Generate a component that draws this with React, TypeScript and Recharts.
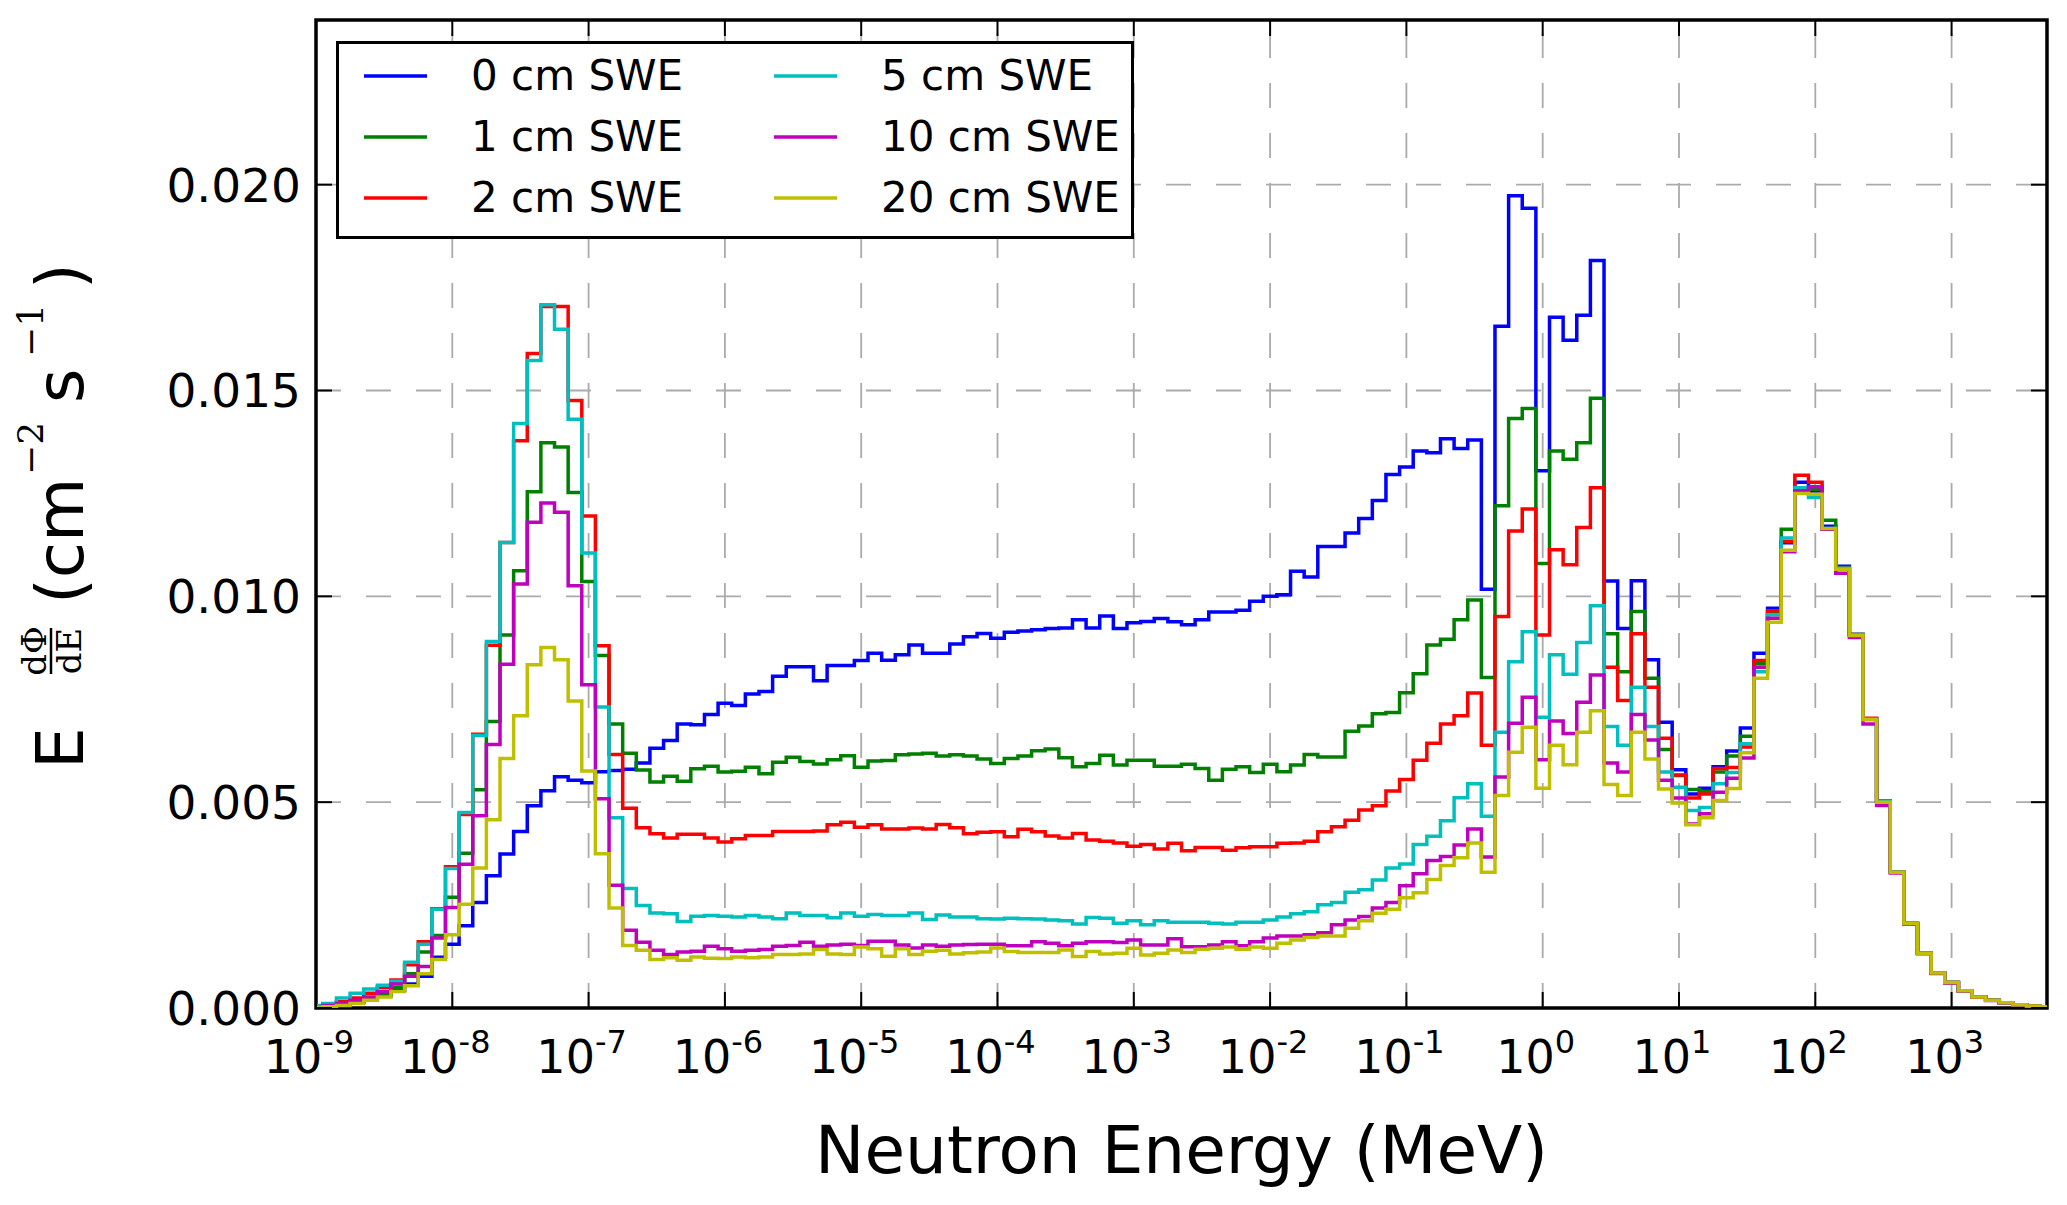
import React from 'react';
import { LineChart, Line, XAxis, YAxis, CartesianGrid, ReferenceArea, Label } from 'recharts';

// bin centres, log10(E / MeV)
const binExponents = [
  -9.0, -8.9, -8.8, -8.7, -8.6, -8.5, -8.4, -8.3, -8.2, -8.1,
  -8.0, -7.9, -7.8, -7.7, -7.6, -7.5, -7.4, -7.3, -7.2, -7.1,
  -7.0, -6.9, -6.8, -6.7, -6.6, -6.5, -6.4, -6.3, -6.2, -6.1,
  -6.0, -5.9, -5.8, -5.7, -5.6, -5.5, -5.4, -5.3, -5.2, -5.1,
  -5.0, -4.9, -4.8, -4.7, -4.6, -4.5, -4.4, -4.3, -4.2, -4.1,
  -4.0, -3.9, -3.8, -3.7, -3.6, -3.5, -3.4, -3.3, -3.2, -3.1,
  -3.0, -2.9, -2.8, -2.7, -2.6, -2.5, -2.4, -2.3, -2.2, -2.1,
  -2.0, -1.9, -1.8, -1.7, -1.6, -1.5, -1.4, -1.3, -1.2, -1.1,
  -1.0, -0.9, -0.8, -0.7, -0.6, -0.5, -0.4, -0.3, -0.2, -0.1,
  0.0, 0.1, 0.2, 0.3, 0.4, 0.5, 0.6, 0.7, 0.8, 0.9,
  1.0, 1.1, 1.2, 1.3, 1.4, 1.5, 1.6, 1.7, 1.8, 1.9,
  2.0, 2.1, 2.2, 2.3, 2.4, 2.5, 2.6, 2.7, 2.8, 2.9,
  3.0, 3.1, 3.2, 3.3, 3.4, 3.5, 3.6, 3.7,
];

// E dPhi/dE in units of 1e-3 cm^-2 s^-1, one row per decade
const flux0cm = [
  0.03, 0.05, 0.09, 0.14, 0.21, 0.30, 0.43, 0.58, 0.77, 1.23,
  1.55, 2.00, 2.56, 3.21, 3.74, 4.29, 4.91, 5.28, 5.62, 5.53,
  5.47, 5.74, 5.77, 5.80, 5.95, 6.31, 6.50, 6.90, 6.88, 7.13,
  7.40, 7.35, 7.63, 7.69, 8.06, 8.29, 8.29, 7.95, 8.32, 8.32,
  8.44, 8.62, 8.45, 8.58, 8.82, 8.62, 8.62, 8.84, 9.02, 9.10,
  8.98, 9.13, 9.16, 9.19, 9.22, 9.23, 9.43, 9.23, 9.52, 9.22,
  9.36, 9.39, 9.46, 9.38, 9.31, 9.43, 9.62, 9.62, 9.66, 9.88,
  10.00, 10.04, 10.61, 10.47, 11.21, 11.21, 11.54, 11.89, 12.33, 12.96,
  13.14, 13.53, 13.49, 13.83, 13.59, 13.80, 10.17, 16.56, 19.73, 19.43,
  13.05, 16.78, 16.22, 16.83, 18.16, 10.37, 9.22, 10.38, 8.46, 6.94,
  5.79, 5.20, 5.34, 5.86, 6.24, 6.80, 8.62, 9.71, 11.30, 12.77,
  12.56, 11.70, 10.73, 9.07, 7.02, 5.02, 3.30, 2.05, 1.33, 0.85,
  0.62, 0.42, 0.27, 0.19, 0.13, 0.08, 0.05, 0.03,
];

const flux1cm = [
  0.02, 0.04, 0.07, 0.15, 0.24, 0.33, 0.50, 0.83, 1.36, 1.76,
  2.69, 3.76, 5.30, 6.96, 9.06, 10.62, 12.54, 13.73, 13.63, 12.52,
  10.36, 8.56, 6.90, 6.19, 5.78, 5.49, 5.63, 5.51, 5.81, 5.87,
  5.73, 5.75, 5.85, 5.69, 5.97, 6.09, 5.99, 5.93, 6.03, 6.13,
  5.85, 6.00, 6.01, 6.15, 6.17, 6.19, 6.12, 6.15, 6.12, 6.05,
  5.94, 6.06, 6.12, 6.25, 6.29, 6.08, 5.86, 5.94, 6.14, 5.90,
  6.02, 6.02, 5.87, 5.87, 5.92, 5.82, 5.53, 5.80, 5.86, 5.72,
  5.92, 5.74, 5.90, 6.16, 6.10, 6.10, 6.72, 6.85, 7.15, 7.18,
  7.66, 8.12, 8.82, 8.96, 9.43, 9.91, 8.03, 12.20, 14.32, 14.56,
  10.80, 13.53, 13.33, 13.73, 14.81, 9.09, 8.17, 9.63, 8.01, 6.28,
  5.65, 5.31, 5.26, 5.73, 6.12, 6.60, 8.36, 9.61, 11.63, 12.62,
  12.60, 11.85, 10.70, 9.07, 7.02, 5.02, 3.30, 2.05, 1.33, 0.85,
  0.62, 0.42, 0.27, 0.19, 0.13, 0.08, 0.05, 0.03,
];

const flux2cm = [
  0.05, 0.09, 0.15, 0.24, 0.36, 0.50, 0.68, 1.05, 1.61, 2.41,
  3.43, 4.70, 6.65, 8.81, 11.31, 13.78, 15.90, 17.04, 17.04, 14.76,
  11.95, 8.80, 6.16, 4.85, 4.38, 4.23, 4.13, 4.22, 4.22, 4.13,
  4.03, 4.11, 4.19, 4.19, 4.29, 4.29, 4.29, 4.30, 4.45, 4.51,
  4.39, 4.45, 4.35, 4.35, 4.37, 4.35, 4.46, 4.38, 4.23, 4.27,
  4.28, 4.16, 4.34, 4.28, 4.18, 4.13, 4.24, 4.08, 4.05, 4.01,
  3.93, 3.97, 3.86, 4.00, 3.82, 3.90, 3.90, 3.83, 3.89, 3.92,
  3.92, 4.00, 4.01, 4.05, 4.28, 4.40, 4.56, 4.81, 4.91, 5.27,
  5.55, 6.02, 6.43, 6.90, 7.10, 7.65, 6.38, 9.51, 11.59, 12.12,
  9.06, 11.13, 10.77, 11.67, 12.64, 8.28, 7.47, 9.09, 7.79, 6.55,
  5.66, 5.10, 5.20, 5.82, 5.84, 6.34, 8.44, 9.65, 11.33, 12.94,
  12.77, 11.63, 10.68, 9.07, 7.04, 5.02, 3.30, 2.05, 1.33, 0.85,
  0.62, 0.42, 0.27, 0.19, 0.13, 0.08, 0.05, 0.03,
];

const flux5cm = [
  0.06, 0.11, 0.24, 0.36, 0.46, 0.55, 0.65, 1.11, 1.55, 2.40,
  3.39, 4.75, 6.62, 8.90, 11.31, 14.20, 15.73, 17.08, 16.49, 14.30,
  11.05, 7.31, 4.62, 2.90, 2.49, 2.31, 2.29, 2.10, 2.23, 2.25,
  2.23, 2.21, 2.25, 2.21, 2.17, 2.31, 2.25, 2.25, 2.19, 2.31,
  2.23, 2.27, 2.25, 2.25, 2.31, 2.15, 2.26, 2.21, 2.21, 2.17,
  2.16, 2.18, 2.17, 2.16, 2.14, 2.12, 2.04, 2.20, 2.18, 2.06,
  2.12, 2.02, 2.12, 2.08, 2.08, 2.08, 2.06, 2.04, 2.08, 2.08,
  2.14, 2.21, 2.29, 2.34, 2.51, 2.56, 2.81, 2.87, 3.11, 3.40,
  3.50, 3.97, 4.17, 4.55, 5.11, 5.45, 4.66, 6.70, 8.41, 9.14,
  7.06, 8.58, 8.11, 8.88, 9.77, 6.84, 6.38, 7.79, 6.84, 5.73,
  5.36, 4.80, 4.87, 5.45, 5.72, 6.42, 8.17, 9.55, 11.42, 12.64,
  12.40, 11.65, 10.68, 9.07, 7.02, 5.02, 3.30, 2.05, 1.33, 0.85,
  0.62, 0.42, 0.27, 0.19, 0.13, 0.08, 0.05, 0.03,
];

const flux10cm = [
  0.03, 0.06, 0.11, 0.19, 0.27, 0.40, 0.58, 0.77, 1.01, 1.70,
  2.44, 3.49, 4.67, 6.40, 8.35, 10.30, 11.80, 12.27, 12.04, 10.26,
  7.85, 5.08, 2.98, 1.89, 1.60, 1.40, 1.30, 1.36, 1.38, 1.50,
  1.44, 1.38, 1.40, 1.42, 1.50, 1.52, 1.60, 1.50, 1.53, 1.55,
  1.52, 1.62, 1.62, 1.53, 1.46, 1.53, 1.50, 1.53, 1.54, 1.55,
  1.55, 1.51, 1.51, 1.61, 1.57, 1.51, 1.57, 1.61, 1.61, 1.59,
  1.65, 1.53, 1.53, 1.68, 1.49, 1.49, 1.53, 1.61, 1.51, 1.61,
  1.70, 1.75, 1.75, 1.78, 1.83, 2.02, 2.14, 2.22, 2.43, 2.56,
  2.97, 3.26, 3.58, 3.68, 3.96, 4.35, 3.67, 5.61, 6.92, 7.55,
  6.03, 6.97, 6.67, 7.43, 8.09, 5.95, 5.73, 7.13, 6.51, 5.53,
  5.10, 4.47, 4.72, 5.24, 5.58, 6.07, 8.28, 9.47, 11.08, 12.56,
  12.66, 11.63, 10.56, 9.00, 6.90, 4.92, 3.28, 2.04, 1.32, 0.84,
  0.61, 0.41, 0.26, 0.18, 0.12, 0.08, 0.05, 0.03,
];

const flux20cm = [
  0.02, 0.03, 0.06, 0.11, 0.19, 0.27, 0.40, 0.54, 0.83, 1.18,
  1.78, 2.52, 3.40, 4.57, 6.06, 7.10, 8.34, 8.76, 8.46, 7.46,
  5.76, 3.75, 2.43, 1.52, 1.40, 1.18, 1.22, 1.16, 1.24, 1.21,
  1.20, 1.24, 1.22, 1.24, 1.30, 1.30, 1.31, 1.42, 1.31, 1.30,
  1.48, 1.44, 1.26, 1.44, 1.30, 1.38, 1.40, 1.31, 1.34, 1.36,
  1.46, 1.37, 1.35, 1.35, 1.35, 1.41, 1.25, 1.37, 1.31, 1.33,
  1.45, 1.29, 1.33, 1.41, 1.35, 1.43, 1.45, 1.48, 1.43, 1.48,
  1.45, 1.57, 1.65, 1.71, 1.75, 1.75, 1.94, 2.12, 2.30, 2.40,
  2.68, 2.80, 3.12, 3.46, 3.65, 4.01, 3.30, 5.16, 6.21, 6.82,
  5.34, 6.38, 5.91, 6.70, 7.22, 5.43, 5.16, 6.70, 6.05, 5.32,
  4.98, 4.45, 4.62, 5.04, 5.33, 6.20, 8.01, 9.37, 11.12, 12.50,
  12.48, 11.65, 10.66, 9.05, 7.00, 5.00, 3.30, 2.05, 1.33, 0.85,
  0.62, 0.42, 0.27, 0.19, 0.13, 0.08, 0.05, 0.03,
];

const seriesNames = ['0 cm SWE', '1 cm SWE', '2 cm SWE', '5 cm SWE', '10 cm SWE', '20 cm SWE'];
const seriesColors = ['#0000ff', '#008000', '#ff0000', '#00bfbf', '#bf00bf', '#bfbf00'];
const seriesValues = [flux0cm, flux1cm, flux2cm, flux5cm, flux10cm, flux20cm];

const xTickExponents = [-9, -8, -7, -6, -5, -4, -3, -2, -1, 0, 1, 2, 3];
const yTicks = [0, 0.005, 0.01, 0.015, 0.02];

const FONT = '"DejaVu Sans", sans-serif';
const SERIF = '"DejaVu Serif", serif';

const W = 2051;
const H = 1185;
const PLOT_LEFT = 308;
const PLOT_TOP = 12;
const PLOT_RIGHT = 2039;
const PLOT_BOTTOM = 1000;
const TICK_LEN = 16;

const data = binExponents.map((p, i) => {
  const row: any = { energy: 10 ** p };
  seriesValues.forEach((vals, k) => {
    row['s' + k] = vals[i] / 1000;
  });
  return row;
});

const XTick = ({ x, payload }: any) => {
  const exp = Math.round(Math.log10(payload.value));
  return (
    <g>
      <line x1={x} x2={x} y1={PLOT_BOTTOM} y2={PLOT_BOTTOM - TICK_LEN} stroke="#000" strokeWidth={2} />
      <line x1={x} x2={x} y1={PLOT_TOP} y2={PLOT_TOP + TICK_LEN} stroke="#000" strokeWidth={2} />
      <text x={x - 7} y={PLOT_BOTTOM + 65} textAnchor="middle" fontFamily={FONT} fontSize={46} fill="#000">
        10<tspan dy={-20} fontSize={32}>{exp}</tspan>
      </text>
    </g>
  );
};

const YTick = ({ y, payload }: any) => (
  <g>
    <line x1={PLOT_LEFT} x2={PLOT_LEFT + TICK_LEN} y1={y} y2={y} stroke="#000" strokeWidth={2} />
    <line x1={PLOT_RIGHT - TICK_LEN} x2={PLOT_RIGHT} y1={y} y2={y} stroke="#000" strokeWidth={2} />
    <text x={PLOT_LEFT - 15} y={y} dy="0.36em" textAnchor="end" fontFamily={FONT} fontSize={47} fill="#000">
      {payload.value.toFixed(3)}
    </text>
  </g>
);

// matplotlib draws the vertical grid dashes from the bottom up
const VGridLine = (props: any) => (
  <line
    key={props.key}
    x1={props.x1}
    y1={props.y2}
    x2={props.x2}
    y2={props.y1}
    stroke="#aaaaaa"
    strokeWidth={1.8}
    strokeDasharray="25 25"
  />
);

const XTitle = () => (
  <text x={(PLOT_LEFT + PLOT_RIGHT) / 2} y={1165} textAnchor="middle" fontFamily={FONT} fontSize={66} fill="#000">
    Neutron Energy (MeV)
  </text>
);

const YTitle = () => (
  <g transform="translate(75, 761) rotate(-90)" fill="#000">
    <text x={0} y={0} fontFamily={FONT} fontSize={66}>E</text>
    <text x={118} y={-37} textAnchor="middle" fontFamily={SERIF} fontSize={34}>dΦ</text>
    <line x1={95} x2={141} y1={-32} y2={-32} stroke="#000" strokeWidth={2.5} />
    <text x={118} y={-2} textAnchor="middle" fontFamily={SERIF} fontSize={34}>dE</text>
    <text x={165} y={0} fontFamily={FONT} fontSize={66}>(cm</text>
    <text x={294} y={-40} fontFamily={SERIF} fontSize={36}>−2</text>
    <text x={366} y={0} fontFamily={FONT} fontSize={66}>s</text>
    <text x={412} y={-40} fontFamily={SERIF} fontSize={36}>−1</text>
    <text x={480} y={0} fontFamily={FONT} fontSize={66}>)</text>
  </g>
);

const legendRows = [34, 95, 156];
const legendCols = [
  { line: 28, text: 135 },
  { line: 438, text: 545 },
];

const LegendBox = () => (
  <svg
    width={798}
    height={198}
    style={{ position: 'absolute', left: 328, top: 33, overflow: 'visible' }}
  >
    <rect x={1.5} y={1.5} width={795} height={195} fill="#fff" stroke="#000" strokeWidth={3} />
    {seriesNames.map((name, i) => {
      const col = legendCols[Math.floor(i / 3)];
      const rowY = legendRows[i % 3] + 1;
      return (
        <g key={name}>
          <line x1={col.line} x2={col.line + 63} y1={rowY} y2={rowY} stroke={seriesColors[i]} strokeWidth={3.5} />
          <text x={col.text} y={rowY + 14} fontFamily={FONT} fontSize={42} fill="#000">
            {name}
          </text>
        </g>
      );
    })}
  </svg>
);

export default function App() {
  return (
    <div style={{ position: 'relative', width: W, height: H }}>
      <LineChart width={W} height={H} data={data} margin={{ top: PLOT_TOP, right: W - PLOT_RIGHT, bottom: 0, left: 0 }}>
        <CartesianGrid
          stroke="#aaaaaa"
          strokeWidth={1.8}
          strokeDasharray="25 25"
          vertical={VGridLine}
        />
        <XAxis
          dataKey="energy"
          type="number"
          scale="log"
          domain={[1e-9, 10 ** 3.7]}
          allowDataOverflow
          ticks={xTickExponents.map((p) => 10 ** p)}
          interval={0}
          tick={XTick}
          tickLine={false}
          axisLine={false}
          tickSize={0}
          tickMargin={0}
          height={H - PLOT_BOTTOM}
        >
          <Label content={XTitle} />
        </XAxis>
        <YAxis
          type="number"
          domain={[0, 0.024]}
          allowDataOverflow
          ticks={yTicks}
          interval={0}
          tick={YTick}
          tickLine={false}
          axisLine={false}
          tickSize={0}
          tickMargin={0}
          width={PLOT_LEFT}
        >
          <Label content={YTitle} />
        </YAxis>
        {seriesNames.map((name, k) => (
          <Line
            key={name}
            name={name}
            type="step"
            dataKey={'s' + k}
            stroke={seriesColors[k]}
            strokeWidth={3.5}
            dot={false}
            activeDot={false}
            isAnimationActive={false}
          />
        ))}
        <ReferenceArea
          x1={1e-9}
          x2={10 ** 3.7}
          y1={0}
          y2={0.024}
          fill="none"
          stroke="#000"
          strokeWidth={3.5}
          ifOverflow="visible"
        />
      </LineChart>
      <LegendBox />
    </div>
  );
}
